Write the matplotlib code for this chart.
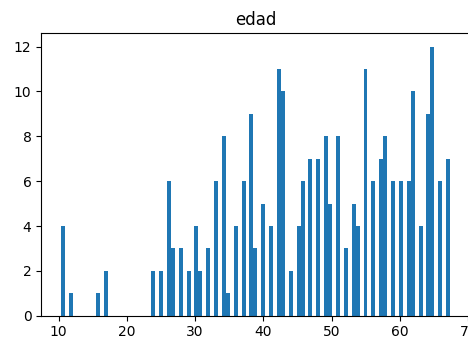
import numpy as np
import matplotlib
matplotlib.use("Agg")
import matplotlib.pyplot as plt

# Ages observed and how many people have each age
edades = [10.5, 12, 16, 17, 24, 25, 26, 27, 28, 29, 30, 31, 32, 33, 34, 35,
          36, 37, 38, 39, 40, 41, 42, 43, 44, 45, 46, 47, 48, 49, 50, 51,
          52, 53, 54, 55, 56, 57, 58, 59, 60, 61, 62, 63, 64, 65, 66, 67]
frecuencias = [4, 1, 1, 2, 2, 2, 6, 3, 3, 2, 4, 2, 3, 6, 8, 1,
               4, 6, 9, 3, 5, 4, 11, 10, 2, 4, 6, 7, 7, 8, 5, 8,
               3, 5, 4, 11, 6, 7, 8, 6, 6, 6, 10, 4, 9, 12, 6, 7]

edad = np.repeat(edades, frecuencias)

fig = plt.figure(figsize=(4.68, 3.37), dpi=100)
ax = fig.add_axes([0.0882, 0.0632, 0.915, 0.8383])

ax.hist(edad, bins=99, range=(10.32, 67.32), color="#1f77b4")
ax.set_title("edad")

fig.savefig("out.png", dpi=100)
